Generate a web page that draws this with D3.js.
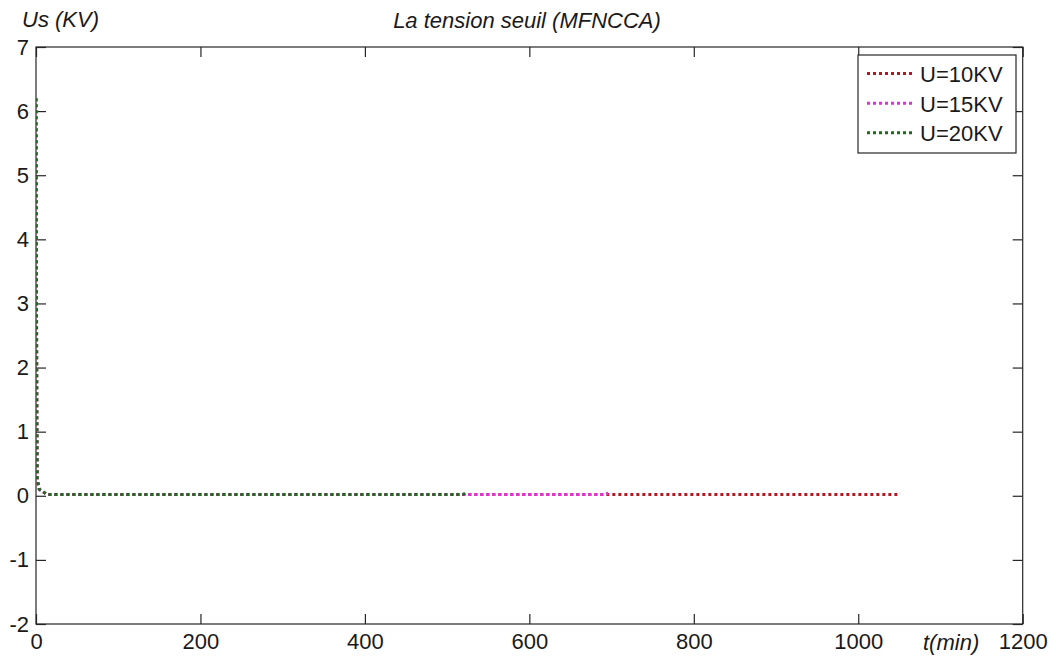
<!DOCTYPE html>
<html>
<head>
<meta charset="utf-8">
<script src="https://cdn.jsdelivr.net/npm/d3@7"></script>
<style>
  html, body { margin: 0; padding: 0; background: #ffffff; }
  svg { display: block; }
  text { font-family: "Liberation Sans", Arial, sans-serif; fill: #1a1a1a; }
</style>
</head>
<body>
<svg id="chart" width="1056" height="657"></svg>
<script>
// Threshold voltage over time for three applied voltages
const tU10 = [0, 0.5, 1, 1.5, 4, 8, 13, 200, 400, 600, 800, 1000, 1048, 1051];
const usU10 = [6.2, 3.5, 1.2, 0.25, 0.1, 0.07, 0.02, 0.02, 0.02, 0.02, 0.02, 0.02, 0.02, 0.04];

const tU15 = [0, 0.5, 1, 1.5, 4, 8, 13, 200, 400, 600, 692, 696];
const usU15 = [6.2, 3.5, 1.2, 0.25, 0.1, 0.07, 0.02, 0.02, 0.02, 0.02, 0.02, 0.04];

const tU20 = [0, 0.5, 1, 1.5, 4, 8, 13, 200, 400, 519, 522, 524];
const usU20 = [6.2, 3.5, 1.2, 0.25, 0.1, 0.07, 0.02, 0.02, 0.02, 0.02, 0.04, 0.07];

const seriesNames = ["U=10KV", "U=15KV", "U=20KV"];
const seriesColors = ["#b3171f", "#e02ee0", "#1d6b1d"];

const xTicks = [0, 200, 400, 600, 800, 1000, 1200];
const xTickLabels = ["0", "200", "400", "600", "800", "1000", "1200"];
const yTicks = [-2, -1, 0, 1, 2, 3, 4, 5, 6, 7];
const yTickLabels = ["-2", "-1", "0", "1", "2", "3", "4", "5", "6", "7"];

const svg = d3.select("#chart");
const plotL = 36, plotR = 1022.7, plotT = 47, plotB = 624;

const x = d3.scaleLinear().domain([0, 1200]).range([plotL, plotR]);
const y = d3.scaleLinear().domain([-2, 7]).range([plotB, plotT]);

const FONT = 22;
const axisColor = "#262626";

// Clip for the data lines
svg.append("defs").append("clipPath").attr("id", "plot-clip")
  .append("rect").attr("x", plotL).attr("y", plotT)
  .attr("width", plotR - plotL).attr("height", plotB - plotT);

// Bottom axis (labels) with inward ticks
const xAxisBottom = d3.axisBottom(x).tickValues(xTicks)
  .tickFormat((d, i) => xTickLabels[i]).tickSize(-10).tickPadding(9);
const gxb = svg.append("g").attr("transform", `translate(0,${plotB})`).call(xAxisBottom);
// Top axis (ticks only)
const gxt = svg.append("g").attr("transform", `translate(0,${plotT})`)
  .call(d3.axisTop(x).tickValues(xTicks).tickFormat("").tickSize(-10));
// Left axis (labels)
const gyl = svg.append("g").attr("transform", `translate(${plotL},0)`)
  .call(d3.axisLeft(y).tickValues(yTicks).tickFormat((d, i) => yTickLabels[i])
    .tickSize(-10).tickPadding(7));
// Right axis (ticks only)
const gyr = svg.append("g").attr("transform", `translate(${plotR},0)`)
  .call(d3.axisRight(y).tickValues(yTicks).tickFormat("").tickSize(-10));

[gxb, gxt, gyl, gyr].forEach(g => {
  g.select(".domain").remove();
  g.attr("font-size", null).attr("font-family", null);
  g.selectAll(".tick line").attr("stroke", axisColor).attr("stroke-width", 1.2);
  g.selectAll(".tick text").attr("font-size", FONT).attr("fill", "#1a1a1a");
});

// Box around the plot area
svg.append("rect").attr("x", plotL).attr("y", plotT)
  .attr("width", plotR - plotL).attr("height", plotB - plotT)
  .attr("fill", "none").attr("stroke", axisColor).attr("stroke-width", 1.2);

// Dotted series lines
const line = d3.line().x(d => x(d[0])).y(d => y(d[1]));
const series = [
  d3.zip(tU10, usU10),
  d3.zip(tU15, usU15),
  d3.zip(tU20, usU20)
];
const dash = "3,3";
svg.append("g").attr("clip-path", "url(#plot-clip)")
  .selectAll("path").data(series).join("path")
  .attr("d", line)
  .attr("fill", "none")
  .attr("stroke", (d, i) => seriesColors[i])
  .attr("stroke-width", 3)
  .attr("stroke-dasharray", dash);

// Labels
svg.append("text").attr("x", 22).attr("y", 27)
  .attr("font-size", FONT).attr("font-style", "italic").text("Us (KV)");
svg.append("text").attr("x", 527).attr("y", 28).attr("text-anchor", "middle")
  .attr("font-size", FONT).attr("font-style", "italic").text("La tension seuil (MFNCCA)");
svg.append("text").attr("x", 923).attr("y", 650)
  .attr("font-size", FONT).attr("font-style", "italic").text("t(min)");

// Legend
const legend = svg.append("g");
legend.append("rect").attr("x", 858).attr("y", 55).attr("width", 158).attr("height", 98)
  .attr("fill", "#ffffff").attr("stroke", axisColor).attr("stroke-width", 1.2);
const rowY = [73.5, 103.2, 132.8];
seriesNames.forEach((name, i) => {
  legend.append("line").attr("x1", 867).attr("x2", 914)
    .attr("y1", rowY[i]).attr("y2", rowY[i])
    .attr("stroke", seriesColors[i]).attr("stroke-width", 3)
    .attr("stroke-dasharray", dash);
  legend.append("text").attr("x", 920).attr("y", rowY[i] + 8.5)
    .attr("font-size", FONT).text(name);
});
</script>
</body>
</html>
